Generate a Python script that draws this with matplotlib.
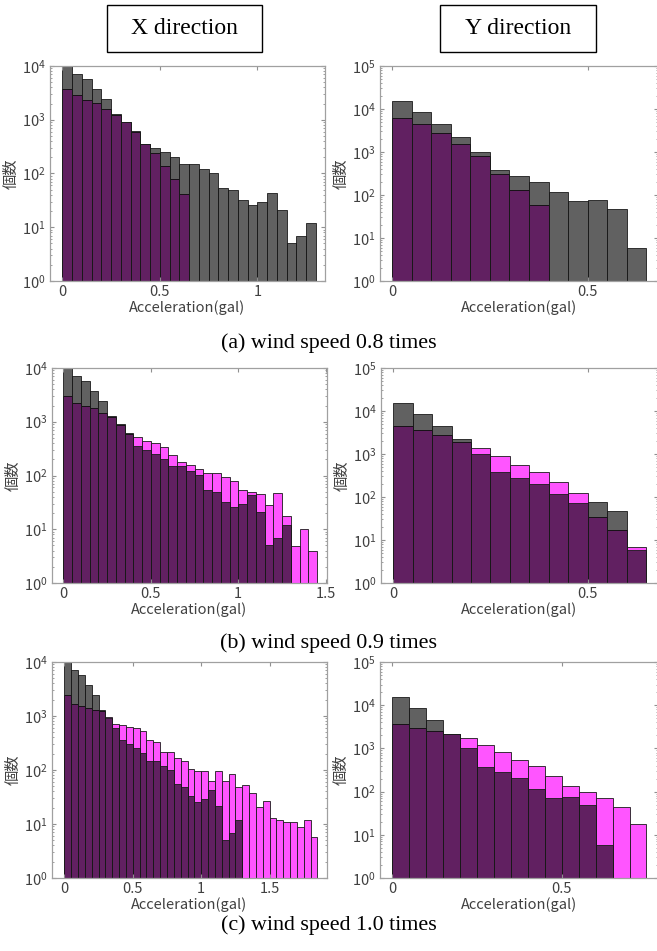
import numpy as np
import matplotlib.pyplot as plt
from matplotlib.patches import Rectangle
from matplotlib.ticker import LogLocator, FormatStrFormatter, NullFormatter

plt.rcParams['font.family'] = ['Noto Sans CJK JP', 'DejaVu Sans']

bin_w = 0.05

# reference histogram (gray), same in every row
gray_x = [12000, 7090, 5640, 3780, 2420, 1290, 915, 612, 360, 300, 252, 203, 148,
          148, 121, 101, 54, 48.5, 32.5, 25.5, 29.4, 42.6, 21.1, 5.0, 6.8, 11.8]
gray_y = [15270, 8450, 4520, 2210, 1020, 375, 281, 204, 115, 72, 75, 48, 5.9]

# magenta histograms for each wind speed factor
mag_x_08 = [3780, 2880, 2350, 2010, 1600, 1250, 890, 595, 350, 241, 140, 80, 41]
mag_x_09 = [2970, 2230, 1990, 1800, 1460, 1210, 870, 590, 520, 445, 396, 334, 237,
            176, 159, 130, 113, 113, 92, 80, 53, 50, 45, 27.9, 48, 17.6, 4.95, 10, 4]
mag_x_10 = [2400, 1680, 1560, 1395, 1300, 1240, 940, 725, 673, 635, 600, 527, 364,
            334, 218, 215, 164, 148, 104, 96.5, 96.5, 63.8, 95, 62, 85, 48.6, 52, 38,
            20.9, 26.3, 12.7, 11.8, 10.9, 10.9, 8.8, 11.7, 5.7]

mag_y_08 = [6120, 4440, 2790, 1570, 824, 313, 130, 59]
mag_y_09 = [4520, 3580, 2790, 1910, 1390, 885, 566, 388, 219, 124, 34.6, 16.9, 7.0]
mag_y_10 = [3680, 2970, 2580, 2100, 1740, 1175, 836, 526, 388, 227, 138, 100, 70, 44, 18]

captions = ['(a) wind speed 0.8 times', '(b) wind speed 0.9 times', '(c) wind speed 1.0 times']
headers = ['X direction', 'Y direction']

mag_rows = [(mag_x_08, mag_y_08), (mag_x_09, mag_y_09), (mag_x_10, mag_y_10)]

W, H = 657, 951
# axes boxes in pixels: left, top, width, height
rects = [[(50, 66, 275, 215), (380, 66, 278, 215)],
         [(52, 368, 275, 215), (381, 368, 277, 215)],
         [(52, 662, 275, 216), (380, 662, 278, 216)]]
xlims = [[(-0.063, 1.347), (-0.031, 0.68)],
         [(-0.065, 1.507), (-0.031, 0.68)],
         [(-0.091, 1.92), (-0.036, 0.784)]]
xticks = [[[0, 0.5, 1], [0, 0.5]],
          [[0, 0.5, 1, 1.5], [0, 0.5]],
          [[0, 0.5, 1, 1.5], [0, 0.5]]]
caption_y = [343, 643, 925]

MAG = '#ff55ff'
GRAY = (0, 0, 0, 0.62)
EDGE = '#1a1a1a'
TXT = '#404040'

fig = plt.figure(figsize=(W / 100, H / 100), dpi=100)

for r in range(3):
    for c in range(2):
        x0, y0, w, h = rects[r][c]
        ax = fig.add_axes([x0 / W, 1 - (y0 + h) / H, w / W, h / H])
        mag = mag_rows[r][c]
        gray = gray_x if c == 0 else gray_y
        ax.bar(np.arange(len(mag)) * bin_w, mag, width=bin_w, align='edge',
               color=MAG, edgecolor=EDGE, linewidth=0.6, log=True)
        ax.bar(np.arange(len(gray)) * bin_w, gray, width=bin_w, align='edge',
               color=GRAY, edgecolor=EDGE, linewidth=0.6, log=True)
        ax.set_yscale('log')
        ax.set_ylim(1, 1e4 if c == 0 else 1e5)
        ax.set_xlim(*xlims[r][c])
        ax.set_xticks(xticks[r][c])
        ax.xaxis.set_major_formatter(FormatStrFormatter('%g'))
        ax.yaxis.set_major_locator(LogLocator(base=10, numticks=10))
        ax.yaxis.set_minor_locator(LogLocator(base=10, subs=np.arange(2, 10), numticks=50))
        ax.yaxis.set_minor_formatter(NullFormatter())
        ax.tick_params(which='both', direction='in', top=True, right=True,
                       color='#909090', labelcolor=TXT, labelsize=10.5, pad=3)
        ax.tick_params(which='major', length=3)
        ax.tick_params(which='minor', length=1.5)
        for s in ax.spines.values():
            s.set_color('#a0a0a0')
            s.set_linewidth(0.9)
        ax.set_xlabel('Acceleration(gal)', fontsize=10.5, color=TXT, labelpad=1)
        ax.set_ylabel('個数', fontsize=11, color=TXT, labelpad=2)

for r in range(3):
    fig.text(0.5, 1 - caption_y[r] / H, captions[r], ha='center', va='center',
             family='Liberation Serif', fontsize=15.8)

for (bx, bw), t in zip([(107, 155), (440, 156)], headers):
    fig.add_artist(Rectangle((bx / W, 1 - 52 / H), bw / W, 47 / H,
                             transform=fig.transFigure, fill=False, ec='black', lw=1))
    fig.text((bx + bw / 2) / W, 1 - 29 / H, t, ha='center', va='center',
             family='Liberation Serif', fontsize=17)

fig.savefig('out.png', dpi=100)
